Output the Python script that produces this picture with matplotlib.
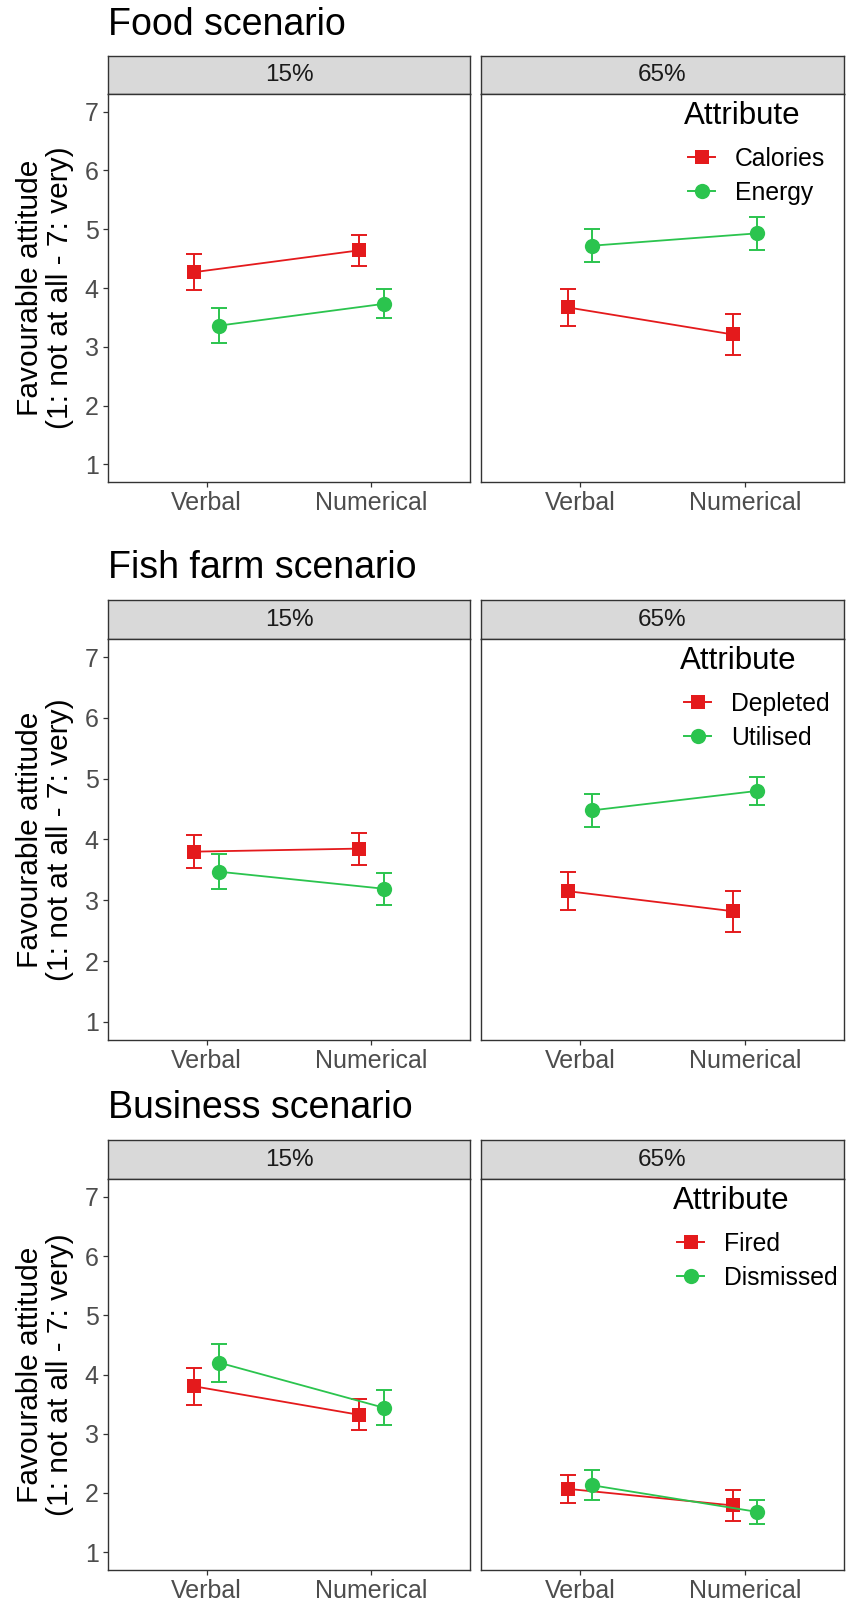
import matplotlib.pyplot as plt
from matplotlib.lines import Line2D

plt.rcParams['font.family'] = ['Liberation Sans', 'DejaVu Sans']

conditions = ['Verbal', 'Numerical']
facets = ['15%', '65%']
scenarios = ['Food scenario', 'Fish farm scenario', 'Business scenario']
attributes = [['Calories', 'Energy'], ['Depleted', 'Utilised'], ['Fired', 'Dismissed']]

# mean ratings per facet (15%, 65%) x condition (Verbal, Numerical)
food_calories = [[4.27, 4.64], [3.67, 3.21]]
food_calories_err = [[0.30, 0.27], [0.32, 0.355]]
food_energy = [[3.36, 3.73], [4.72, 4.93]]
food_energy_err = [[0.30, 0.245], [0.28, 0.28]]

fish_depleted = [[3.80, 3.85], [3.15, 2.82]]
fish_depleted_err = [[0.27, 0.265], [0.31, 0.335]]
fish_utilised = [[3.47, 3.19], [4.48, 4.80]]
fish_utilised_err = [[0.29, 0.26], [0.27, 0.235]]

business_fired = [[3.80, 3.32], [2.07, 1.79]]
business_fired_err = [[0.31, 0.26], [0.235, 0.26]]
business_dismissed = [[4.20, 3.44], [2.13, 1.68]]
business_dismissed_err = [[0.32, 0.30], [0.255, 0.20]]

series = [
    [(food_calories, food_calories_err), (food_energy, food_energy_err)],
    [(fish_depleted, fish_depleted_err), (fish_utilised, fish_utilised_err)],
    [(business_fired, business_fired_err), (business_dismissed, business_dismissed_err)],
]

colors = ['#E41A1C', '#2BC44E']
markers = ['s', 'o']
msizes = [9.5, 11]
dodge = [-0.075, 0.075]

# layout in pixels
W, H = 851, 1616
col_x = [(108, 470), (481, 844)]
rows = [(56, 94, 482), (600, 639, 1040), (1140, 1179, 1570)]
title_y = [25, 568, 1108]
legend_x = [684, 680, 673]

fig = plt.figure(figsize=(W / 100, H / 100), dpi=100)
border = '#333333'

def px_rect(x0, x1, y0, y1):
    return [x0 / W, 1 - y1 / H, (x1 - x0) / W, (y1 - y0) / H]

for r in range(3):
    s_top, p_top, p_bot = rows[r]
    fig.text(108 / W, 1 - title_y[r] / H, scenarios[r], fontsize=27,
             ha='left', va='center', color='black')
    fig.text(45 / W, 1 - (p_top + p_bot) / 2 / H,
             'Favourable attitude\n(1: not at all - 7: very)',
             rotation=90, ha='center', va='center', fontsize=21.5,
             linespacing=1.1, multialignment='center')
    for c in range(2):
        x0, x1 = col_x[c]
        # facet strip
        sax = fig.add_axes(px_rect(x0, x1, s_top, p_top))
        sax.set_facecolor('#D9D9D9')
        sax.set_xticks([])
        sax.set_yticks([])
        for sp in sax.spines.values():
            sp.set_color(border)
            sp.set_linewidth(1.0)
        sax.text(0.5, 0.5, facets[c], transform=sax.transAxes, ha='center',
                 va='center', fontsize=17.5, color='#1A1A1A')

        ax = fig.add_axes(px_rect(x0, x1, p_top, p_bot))
        for k in range(2):
            vals, errs = series[r][k]
            xs = [i + dodge[k] for i in range(len(conditions))]
            ax.errorbar(xs, vals[c], yerr=errs[c], fmt='none',
                        ecolor=colors[k], elinewidth=1.4, capsize=5.8,
                        capthick=1.4)
            ax.plot(xs, vals[c], '-' + markers[k], color=colors[k],
                    ms=msizes[k], mew=0, lw=1.3)
        ax.set_xlim(-0.6, 1.6)
        ax.set_ylim(0.7, 7.3)
        ax.set_xticks(range(len(conditions)))
        ax.set_xticklabels(conditions)
        ax.set_yticks(range(1, 8))
        ax.tick_params(axis='both', labelsize=18, labelcolor='#4D4D4D',
                       color=border, length=3.6, width=0.9, pad=3)
        if c == 1:
            ax.tick_params(axis='y', left=False, labelleft=False)
        for sp in ax.spines.values():
            sp.set_color(border)
            sp.set_linewidth(1.0)

        if c == 1:
            pw = x1 - x0
            ph = p_bot - p_top
            ax.text((legend_x[r] - x0) / pw, 1 - 22 / ph, 'Attribute',
                    transform=ax.transAxes, ha='left', va='center',
                    fontsize=22.5, color='black')
            handles = [Line2D([], [], color=colors[k], marker=markers[k],
                              ms=msizes[k], mew=0, lw=1.4) for k in range(2)]
            ax.legend(handles, attributes[r], loc='upper left',
                      bbox_to_anchor=((legend_x[r] + 4 - x0) / pw, 1 - 53 / ph),
                      frameon=False, fontsize=17.8, borderpad=0,
                      handlelength=1.1, handletextpad=0.8, labelspacing=0.4,
                      borderaxespad=0)

fig.savefig('out.png', dpi=100)
